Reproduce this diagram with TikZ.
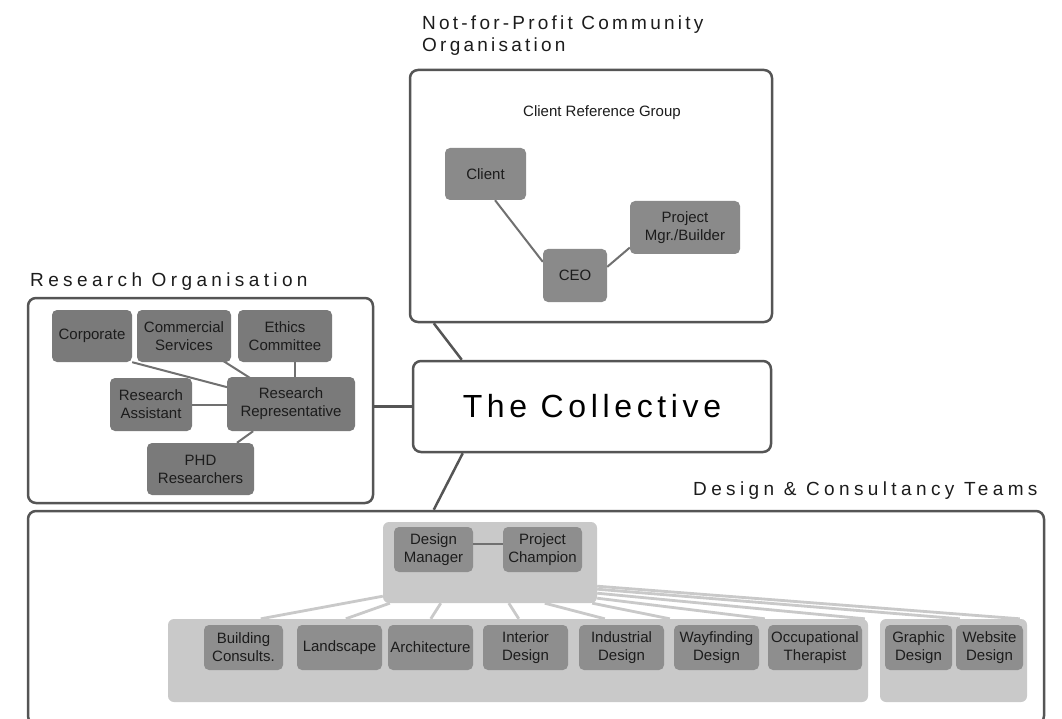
\documentclass[tikz,border=0pt]{standalone}
\usepackage{fontspec}
\setmainfont{Liberation Sans}
\newfontfamily\headingfont{Liberation Sans}[LetterSpace=23]
\newfontfamily\nfpheadingfont{Liberation Sans}[LetterSpace=17]
\newfontfamily\collectivefont{Liberation Sans}[LetterSpace=14.5]

\definecolor{frame}{HTML}{555555}
\definecolor{panel}{HTML}{C9C9C9}
\definecolor{unit}{HTML}{8E8E8E}
\definecolor{unitnfp}{HTML}{8A8A8A}
\definecolor{unitdark}{HTML}{7A7A7A}
\definecolor{linkgray}{HTML}{707070}
\definecolor{ink}{HTML}{1C1C1C}

\pgfdeclarelayer{frames}
\pgfdeclarelayer{links}
\pgfsetlayers{frames,links,main}

\tikzset{
  orgbox/.style={draw=frame, line width=2.5pt, rounded corners=8pt, fill=white, inner sep=0pt},
  orglink/.style={draw=frame, line width=2.5pt},
  panelbox/.style={fill=panel, rounded corners=6pt, inner sep=0pt},
  unitbox/.style={fill=unit, rounded corners=5pt, inner sep=1pt, align=center, text=ink,
    font=\fontsize{15}{18}\selectfont},
  nfpunit/.style={unitbox, fill=unitnfp},
  resunit/.style={unitbox, fill=unitdark},
  link/.style={draw=linkgray, line width=2pt},
  fan/.style={draw=panel, line width=2.8pt},
  heading/.style={font=\headingfont\fontsize{19}{22}\selectfont, text=ink, inner sep=0pt, align=left},
}

\begin{document}
\begin{tikzpicture}[x=1pt,y=-1pt]
\useasboundingbox (0,0) rectangle (1062,719);

% ---------- group titles ----------
% anchored on the baseline of the last line
\node[heading, font=\nfpheadingfont\fontsize{19}{22}\selectfont, anchor=base west] (nfptitle)
  at (422,52) {Not-for-Profit Community\\Organisation};
\node[heading, anchor=base west] (restitle) at (30,287) {Research Organisation};
\node[heading, anchor=base west] (destitle) at (693,495) {Design \& Consultancy Teams};

% ---------- organisation frames ----------
\begin{pgfonlayer}{frames}
\node[orgbox, minimum width=362pt, minimum height=252pt] (nfp) at (591,196) {};
\node[orgbox, minimum width=345pt, minimum height=205pt] (res) at (200.5,400.5) {};
\node[orgbox, minimum width=358pt, minimum height=91pt,
      font=\collectivefont\fontsize{32}{38}\selectfont] (coll) at (592,406.5) {The Collective};
\node[orgbox, minimum width=1016pt, minimum height=213pt] (des) at (536,617.5) {};
\end{pgfonlayer}

% ---------- not-for-profit community organisation ----------
\node[font=\fontsize{15}{18}\selectfont, text=ink] (crg) at (602,113) {Client Reference Group};
\node[nfpunit, minimum width=81pt, minimum height=52pt] (client) at (485.5,174) {Client};
\node[nfpunit, minimum width=110pt, minimum height=53pt] (pm) at (685,227.5) {Project\\Mgr./Builder};
\node[nfpunit, minimum width=64pt, minimum height=53pt] (ceo) at (575,275.5) {CEO};

% ---------- research organisation ----------
\node[resunit, minimum width=80pt, minimum height=52pt] (corp) at (92,336) {Corporate};
\node[resunit, minimum width=94pt, minimum height=52pt] (comm) at (184,336) {Commercial\\Services};
\node[resunit, minimum width=94pt, minimum height=52pt] (ethics) at (285,336) {Ethics\\Committee};
\node[resunit, minimum width=82pt, minimum height=53pt] (ra) at (151,404.5) {Research\\Assistant};
\node[resunit, minimum width=128pt, minimum height=54pt] (rr) at (291,404) {Research\\Representative};
\node[resunit, minimum width=107pt, minimum height=52pt] (phd) at (200.5,469) {PHD\\Researchers};

% ---------- design & consultancy teams ----------
\node[panelbox, minimum width=214pt, minimum height=81pt] (lead) at (490,562.5) {};
\node[panelbox, minimum width=700pt, minimum height=83pt] (teamsA) at (518,660.5) {};
\node[panelbox, minimum width=147pt, minimum height=83pt] (teamsB) at (953.5,660.5) {};

\node[unitbox, minimum width=79pt, minimum height=45pt] (dm) at (433.5,549.5) {Design\\Manager};
\node[unitbox, minimum width=79pt, minimum height=45pt] (pc) at (542.5,549.5) {Project\\Champion};
\draw[link] ([yshift=6pt]dm.east) -- ([yshift=6pt]pc.west);

\node[unitbox, minimum width=79pt, minimum height=45pt] (bldg) at (243.5,647.5) {Building\\Consults.};
\node[unitbox, minimum width=85pt, minimum height=45pt] (land) at (339.5,647.5) {Landscape};
\node[unitbox, minimum width=85pt, minimum height=45pt] (arch) at (430.5,647.5) {Architecture};
\node[unitbox, minimum width=85pt, minimum height=45pt] (inter) at (525.5,647.5) {Interior\\Design};
\node[unitbox, minimum width=85pt, minimum height=45pt] (indus) at (621.5,647.5) {Industrial\\Design};
\node[unitbox, minimum width=85pt, minimum height=45pt] (way) at (716.5,647.5) {Wayfinding\\Design};
\node[unitbox, minimum width=94pt, minimum height=45pt] (occ) at (815,647.5) {Occupational\\Therapist};
\node[unitbox, minimum width=67pt, minimum height=45pt] (graph) at (918.5,647.5) {Graphic\\Design};
\node[unitbox, minimum width=67pt, minimum height=45pt] (web) at (989.5,647.5) {Website\\Design};

% ---------- connectors ----------
\begin{pgfonlayer}{links}
% between the organisations and the collective
\draw[orglink] ([xshift=25pt]nfp.south west) -- ([xshift=50pt]coll.north west);
\draw[orglink] (res.east |- coll.west) -- (coll.west);
\draw[orglink] ([xshift=51pt]coll.south west) -- ([xshift=407pt]des.north west);

% client reference group
\draw[link] (client.-70) -- (ceo.157);
\draw[link] (ceo.15) -- (pm.200);

% research organisation
\draw[link] (corp.south east) -- (rr.center);
\draw[link] (comm.center) -- (rr.center);
\draw[link] ([xshift=10pt]ethics.center) -- ([xshift=4pt]rr.center);
\draw[link] (ra.east) -- (ra.east -| rr.west);
\draw[link] (rr) -- (phd);

% leadership fanning out to the teams
\draw[fan] ([yshift=7pt]lead.south west) -- ([xshift=93pt]teamsA.north west);
\draw[fan] ([xshift=7pt]lead.south west) -- ([xshift=178pt]teamsA.north west);
\draw[fan] ([xshift=58pt]lead.south west) -- ([xshift=263pt]teamsA.north west);
\draw[fan] ([xshift=126pt]lead.south west) -- ([xshift=351pt]teamsA.north west);
\draw[fan] ([xshift=162pt]lead.south west) -- ([xshift=437pt]teamsA.north west);
\draw[fan] ([xshift=-5pt]lead.south east) -- ([xshift=502pt]teamsA.north west);
\draw[fan] ([yshift=5pt]lead.south east) -- ([xshift=597pt]teamsA.north west);
\draw[fan] ([yshift=10pt]lead.south east) -- ([xshift=697pt]teamsA.north west);
\draw[fan] ([yshift=14pt]lead.south east) -- ([xshift=80pt]teamsB.north west);
\draw[fan] ([yshift=17pt]lead.south east) -- ([xshift=140pt]teamsB.north west);
\end{pgfonlayer}
\end{tikzpicture}
\end{document}
